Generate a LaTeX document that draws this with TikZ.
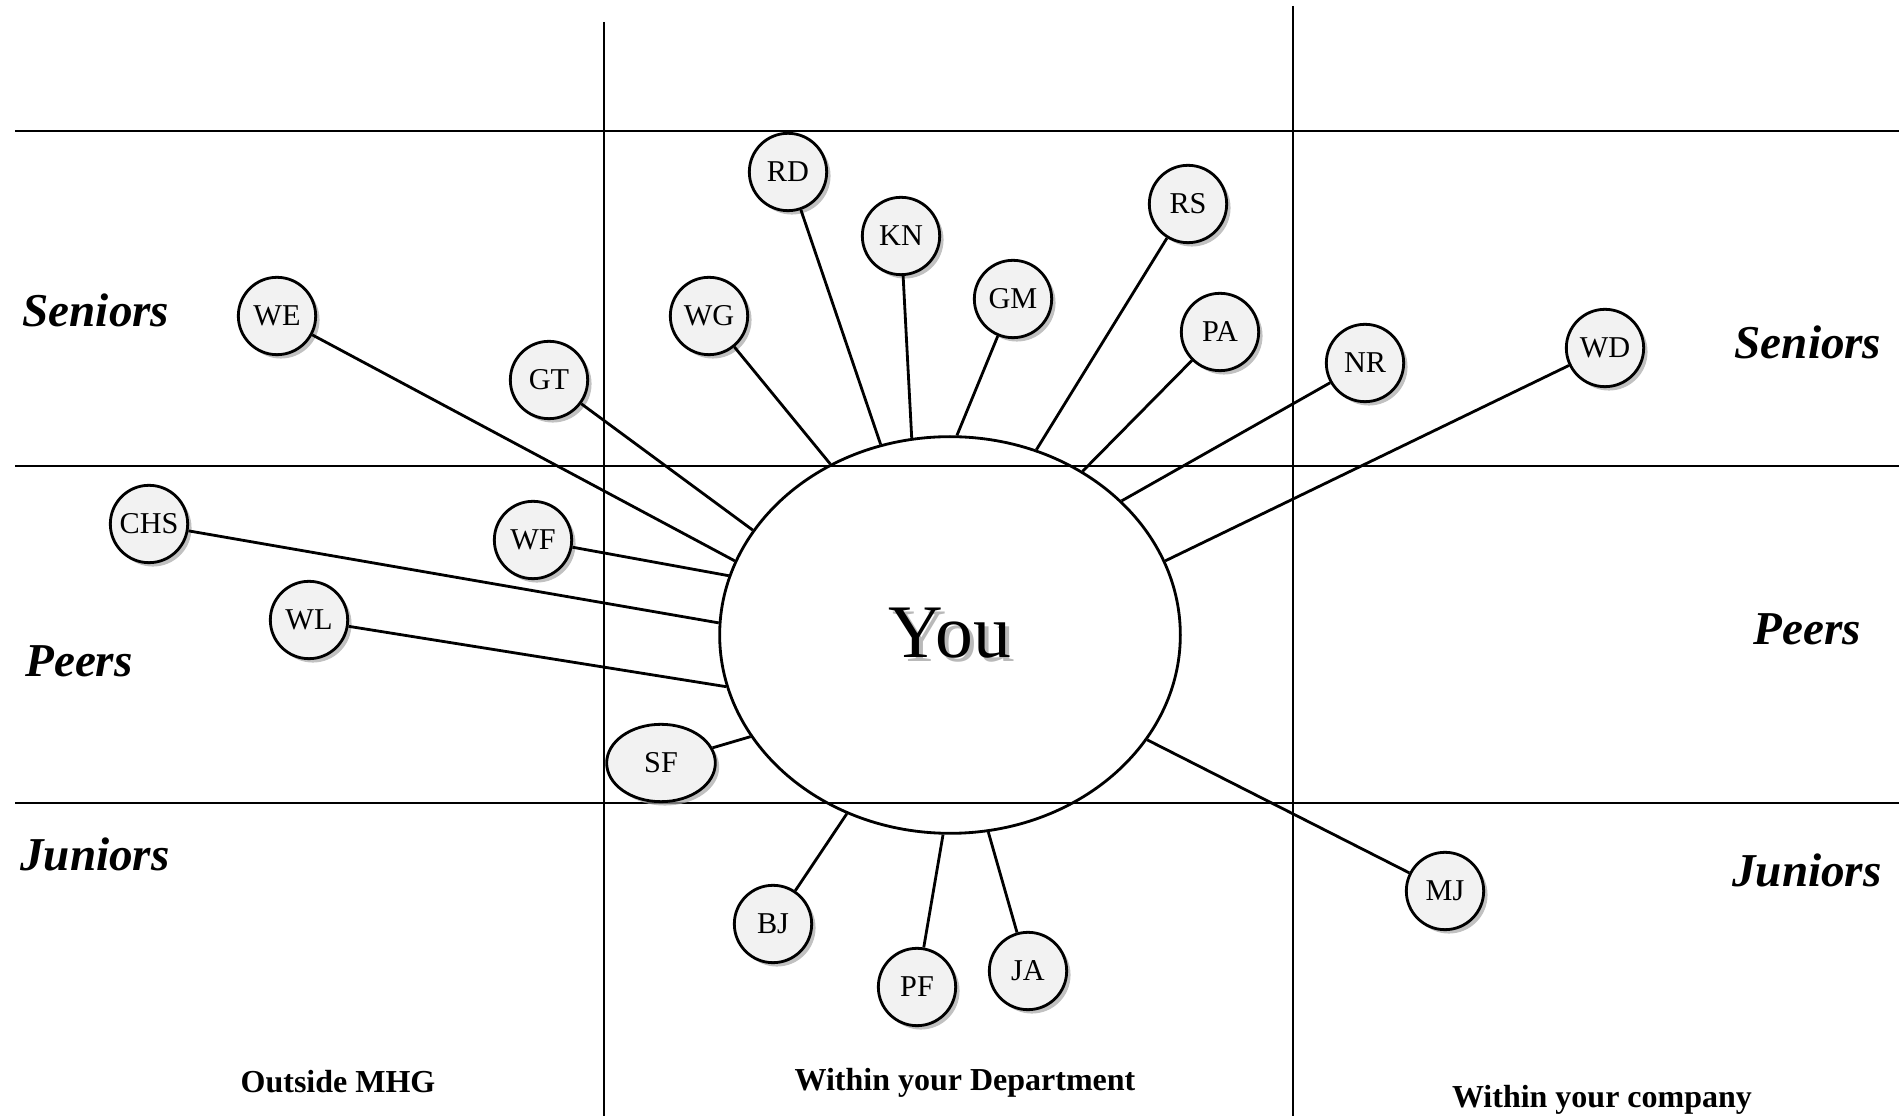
\documentclass[tikz,border=0pt]{standalone}
\usepackage{fontspec}
\setmainfont{Liberation Serif}
\usetikzlibrary{shapes.geometric,shadows}
\begin{document}
\begin{tikzpicture}[x=0.01cm,y=-0.01cm,line width=0.8pt,
  person/.style={circle,draw,fill=gray!10,minimum size=22pt,inner sep=0pt,
    font=\fontsize{8.6}{10}\selectfont,
    drop shadow={shadow xshift=1.1pt,shadow yshift=-1.1pt,fill=gray!70,opacity=0.7}},
  rank/.style={font=\fontsize{13.4}{16}\selectfont\bfseries\itshape},
  area/.style={font=\fontsize{9.1}{11}\selectfont\bfseries}]
\useasboundingbox (0,0) rectangle (1899,1116);
\draw (15,131) -- (1899,131);
\draw (15,466) -- (1899,466);
\draw (15,803) -- (1899,803);
\draw (604,22) -- (604,1116);
\draw (1293,6) -- (1293,1116);
\node[ellipse,draw,minimum width=131pt,minimum height=112.8pt,inner sep=0pt,
  font=\fontsize{21.5}{24}\selectfont] (you) at (950,635)
  {\makebox[0pt][l]{\raisebox{-1pt}{\hspace{1pt}\textcolor{gray!55}{You}}}You};
\node[person] (rd) at (788,172) {RD};
\node[person] (kn) at (901,236) {KN};
\node[person] (rs) at (1188,204) {RS};
\node[person] (gm) at (1013,299) {GM};
\node[person] (wg) at (709,316) {WG};
\node[person] (pa) at (1220,332) {PA};
\node[person] (nr) at (1365,363) {NR};
\node[person] (wd) at (1605,348) {WD};
\node[person] (we) at (277,316) {WE};
\node[person] (gt) at (549,380) {GT};
\node[person] (chs) at (149,524) {CHS};
\node[person] (wf) at (533,540) {WF};
\node[person] (wl) at (309,620) {WL};
\node[person,ellipse,minimum width=30.9pt,minimum height=22pt] (sf) at (661,763) {SF};
\node[person] (bj) at (773,924) {BJ};
\node[person] (pf) at (917,987) {PF};
\node[person] (ja) at (1028,971) {JA};
\node[person] (mj) at (1445,891) {MJ};
\draw (rd) -- (you.110.5);
\draw (kn) -- (you.101.7);
\draw (gm) -- (you.88);
\draw (rs) -- (you.65.5);
\draw (wg) -- (you.125.6);
\draw (pa) -- (you.51.4);
\draw (nr) -- (you.38);
\draw (wd) -- (you.19.2);
\draw (we) -- (you.161.5);
\draw (gt) -- (you.152.5);
\draw (chs) -- (you.177.6);
\draw (wf) -- (you.165.8);
\draw (wl) -- (you.193.1);
\draw (sf) -- (you.207.9);
\draw (bj) -- (you.240.8);
\draw (pf) -- (you.268);
\draw (ja) -- (you.281.6);
\draw (mj) -- (you.332.3);
\node[rank] (senl) at (96,310) {Seniors};
\node[rank] (peerl) at (79,661) {Peers};
\node[rank] (junl) at (95,854) {Juniors};
\node[rank] (senr) at (1808,342) {Seniors};
\node[rank] (peerr) at (1807,629) {Peers};
\node[rank] (junr) at (1807,870) {Juniors};
\node[area] (outside) at (338,1082) {Outside MHG};
\node[area] (dept) at (965,1083) {Within your Department};
\node[area] (company) at (1602,1100) {Within your company};
\end{tikzpicture}
\end{document}
